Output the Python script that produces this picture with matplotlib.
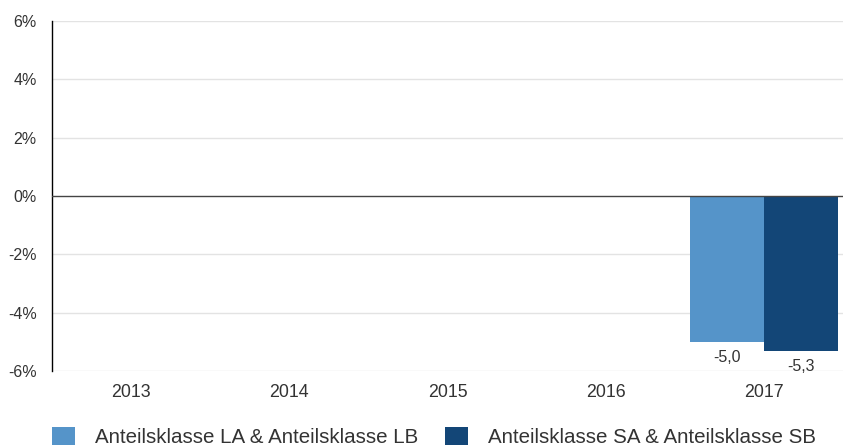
import matplotlib
matplotlib.use("Agg")
import matplotlib.pyplot as plt
from matplotlib.patches import Patch
import numpy as np

years = ["2013", "2014", "2015", "2016", "2017"]
series_names = ["Anteilsklasse LA & Anteilsklasse LB", "Anteilsklasse SA & Anteilsklasse SB"]
la_values = [np.nan, np.nan, np.nan, np.nan, -5.0]
sa_values = [np.nan, np.nan, np.nan, np.nan, -5.3]
yticks = [-6, -4, -2, 0, 2, 4, 6]
colors = ["#5594C9", "#134677"]

plt.rcParams['font.family'] = ['Liberation Sans', 'DejaVu Sans']
W, H = 843, 448
fig = plt.figure(figsize=(W/100, H/100), dpi=100)
ax = fig.add_axes([52/W, 1-371/H, 1-52/W, 350/H])

x = np.arange(len(years))
bw = 0.468
for vals, off, c in [(la_values, -bw/2, colors[0]), (sa_values, bw/2, colors[1])]:
    ax.bar(x + off, vals, width=bw, color=c, zorder=3)
    for xi, v in zip(x, vals):
        if not np.isnan(v):
            ax.annotate(f"{v:.1f}".replace(".", ","), (xi + off, v), xytext=(0, -6),
                        textcoords="offset points", ha="center", va="top",
                        fontsize=11.5, color="#333333", zorder=4)

ax.set_xlim(-0.5, len(years) - 0.5)
ax.set_ylim(-6, 6)
ax.set_yticks(yticks)
ax.set_yticklabels([f"{t}%" for t in yticks])
ax.set_xticks(x)
ax.set_xticklabels(years)
ax.tick_params(axis="y", length=0, pad=11, labelsize=11.5, labelcolor="#333333")
ax.tick_params(axis="x", length=0, pad=9, labelsize=12.8, labelcolor="#333333")
for t in yticks:
    if t != 0:
        ax.axhline(t, color="#e3e3e3", lw=1, zorder=1)
ax.axhline(0, color="#444444", lw=1, zorder=4)
for s in ["top", "right", "bottom"]:
    ax.spines[s].set_visible(False)
ax.spines["left"].set_color("#000000")
ax.spines["left"].set_linewidth(1)

handles = [Patch(facecolor=colors[0]), Patch(facecolor=colors[1])]
fig.legend(handles, series_names, loc="center left", bbox_to_anchor=(52/W, 1-437/H),
           ncol=2, frameon=False, fontsize=14.8, handlelength=1.12, handleheight=1.0,
           handletextpad=0.97, columnspacing=1.3, borderpad=0, borderaxespad=0,
           labelcolor="#333333")

fig.savefig("out.png", dpi=100)
